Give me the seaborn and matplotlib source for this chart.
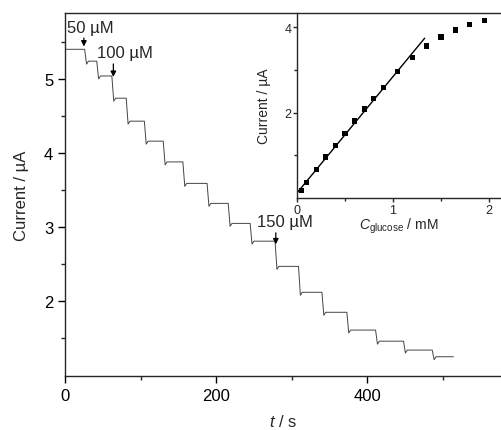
import numpy as np
import pandas as pd
import seaborn as sns
import matplotlib.pyplot as plt

# amperometric trace: times of glucose additions (s) and current plateaus (uA)
step_times = [26, 42, 62, 81, 105, 130, 156, 188, 216, 245, 278, 309, 340, 373, 411, 448, 486]
plateaus = [5.40, 5.24, 5.04, 4.74, 4.43, 4.16, 3.88, 3.59, 3.32, 3.05, 2.81,
            2.47, 2.12, 1.85, 1.61, 1.46, 1.34, 1.25]
t_end = 514

# inset calibration points
conc_mM = [0.05, 0.10, 0.20, 0.30, 0.40, 0.50, 0.60, 0.70, 0.80, 0.90,
           1.05, 1.20, 1.35, 1.50, 1.65, 1.80, 1.95]
resp_uA = [0.17, 0.36, 0.66, 0.96, 1.23, 1.51, 1.80, 2.08, 2.33, 2.59,
           2.96, 3.29, 3.56, 3.77, 3.93, 4.06, 4.15]
n_linear = 12       # points used for linear fit
fit_end = 1.33      # fit line drawn up to this concentration

sns.set_style('ticks')
plt.rcParams['font.family'] = ['Liberation Sans', 'DejaVu Sans']
plt.rcParams['mathtext.fontset'] = 'custom'
plt.rcParams['mathtext.rm'] = 'Liberation Sans'
plt.rcParams['mathtext.it'] = 'Liberation Sans:italic'
plt.rcParams['axes.linewidth'] = 1.0

# build step trace (small undershoot right after each addition)
dip = 0.04
tt, ii = [0], [plateaus[0]]
for k, ts in enumerate(step_times):
    tt += [ts, ts + 2.5, ts + 5]
    ii += [plateaus[k], plateaus[k + 1] - dip, plateaus[k + 1]]
tt.append(t_end)
ii.append(plateaus[-1])
trace = pd.DataFrame({'t': tt, 'i': ii})

W, H = 501, 431
fig = plt.figure(figsize=(W / 100, H / 100), dpi=100)
ax = fig.add_axes([65 / W, 1 - 377 / H, (W - 65) / W, (377 - 14) / H])

sns.lineplot(data=trace, x='t', y='i', sort=False, estimator=None,
             color='#444444', lw=0.7, ax=ax)
ax.set_xlim(0, 577)
ax.set_ylim(0.99, 5.89)
ax.set_xticks([0, 200, 400])
ax.set_xticks([100, 300, 500], minor=True)
ax.set_yticks([2, 3, 4, 5])
ax.set_yticks([1.5, 2.5, 3.5, 4.5, 5.5], minor=True)
ax.tick_params(which='major', direction='out', length=5, width=1, labelsize=12, colors='black')
ax.tick_params(which='minor', direction='out', length=3, width=1)
ax.spines['right'].set_visible(False)
ax.set_xlabel('$t$ / s', fontsize=12, labelpad=7)
ax.set_ylabel('Current / µA', fontsize=12, labelpad=11)

arrow = dict(arrowstyle='-|>', color='black', lw=0.9, mutation_scale=8)
ax.annotate('', xy=(25, 5.40), xytext=(25, 5.59), arrowprops=arrow)
ax.text(3, 5.69, '50 µM', fontsize=12, va='center', ha='left')
ax.annotate('', xy=(64, 4.99), xytext=(64, 5.24), arrowprops=arrow)
ax.text(42, 5.36, '100 µM', fontsize=12, va='center', ha='left')
ax.annotate('', xy=(279, 2.73), xytext=(279, 2.96), arrowprops=arrow)
ax.text(254, 3.07, '150 µM', fontsize=12, va='center', ha='left')

# inset
ins = fig.add_axes([297 / W, 1 - 199 / H, (W - 297) / W, (199 - 14) / H])
ins.patch.set_alpha(0)
sns.scatterplot(x=conc_mM, y=resp_uA, marker='s', s=15, color='black',
                edgecolor='none', ax=ins)
slope, icpt = np.polyfit(conc_mM[:n_linear], resp_uA[:n_linear], 1)
cfit = np.array([0.0, fit_end])
sns.lineplot(x=cfit, y=slope * cfit + icpt, color='black', lw=1.0, ax=ins)
ins.set_xlim(0, 2.125)
ins.set_ylim(0, 4.33)
ins.set_xticks([0, 1, 2])
ins.set_xticks([0.5, 1.5], minor=True)
ins.set_yticks([2, 4])
ins.set_yticks([1, 3], minor=True)
ins.tick_params(which='major', direction='out', length=3, width=1, labelsize=9, pad=1)
ins.tick_params(which='minor', direction='out', length=2, width=1)
ins.spines['right'].set_visible(False)
ins.spines['top'].set_visible(False)
ins.set_xlabel('$C_{\\mathrm{glucose}}$ / mM', fontsize=10, labelpad=0)
ins.set_ylabel('Current / µA', fontsize=10, labelpad=10)

fig.savefig('out.png', dpi=100)
